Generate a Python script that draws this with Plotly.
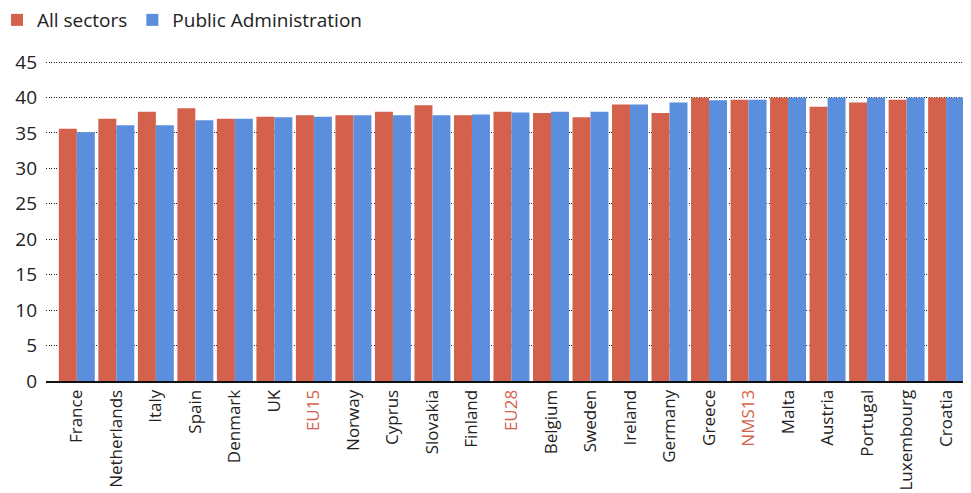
import plotly.graph_objects as go

categories = ["France", "Netherlands", "Italy", "Spain", "Denmark", "UK", "EU15", "Norway",
              "Cyprus", "Slovakia", "Finland", "EU28", "Belgium", "Sweden", "Ireland", "Germany",
              "Greece", "NMS13", "Malta", "Austria", "Portugal", "Luxembourg", "Croatia"]
all_sectors = [35.6, 37.0, 38.0, 38.5, 37.0, 37.3, 37.5, 37.5, 38.0, 38.9, 37.5, 38.0, 37.8,
               37.2, 39.0, 37.8, 40.0, 39.7, 40.0, 38.7, 39.3, 39.7, 40.0]
public_admin = [35.1, 36.1, 36.1, 36.8, 37.0, 37.2, 37.3, 37.5, 37.5, 37.5, 37.6, 37.9, 38.0,
                38.0, 39.0, 39.3, 39.6, 39.7, 40.0, 40.0, 40.0, 40.0, 40.0]
highlight = ["EU15", "EU28", "NMS13"]
yticks = [0, 5, 10, 15, 20, 25, 30, 35, 40, 45]

RED = "#D4614B"
BLUE = "#5B8EDC"

x = list(range(len(categories)))
ticktext = [f"<span style='color:{RED}'>{c}</span>" if c in highlight else c for c in categories]

fig = go.Figure()
fig.add_trace(go.Bar(x=x, y=all_sectors, name="All sectors", marker_color=RED, marker_line_width=0))
fig.add_trace(go.Bar(x=x, y=public_admin, name="Public Administration", marker_color=BLUE, marker_line_width=0))

fig.update_layout(
    width=971, height=493,
    margin=dict(l=38, r=8, t=53, b=120, autoexpand=False),
    plot_bgcolor="white", paper_bgcolor="white",
    barmode="group", bargap=0.09, bargroupgap=0,
    font=dict(family="Open Sans", size=18, color="#222"),
    legend=dict(orientation="h", x=-0.053, y=1.128, xanchor="left", yanchor="middle",
                font=dict(size=19), itemwidth=30, traceorder="normal"),
    xaxis=dict(tickmode="array", tickvals=x, ticktext=ticktext, tickangle=-90,
               range=[-0.78, 22.63], showgrid=False, ticks="", showline=True,
               linecolor="#111", linewidth=2, tickfont=dict(size=17), automargin=False),
    yaxis=dict(range=[0, 45.15], tickvals=yticks, showgrid=True, gridcolor="#222",
               griddash="1px,1.5px", gridwidth=1, zeroline=False, ticks="", ticklabelstandoff=8,
               tickfont=dict(size=19), automargin=False),
)

fig.write_html("out.html")
